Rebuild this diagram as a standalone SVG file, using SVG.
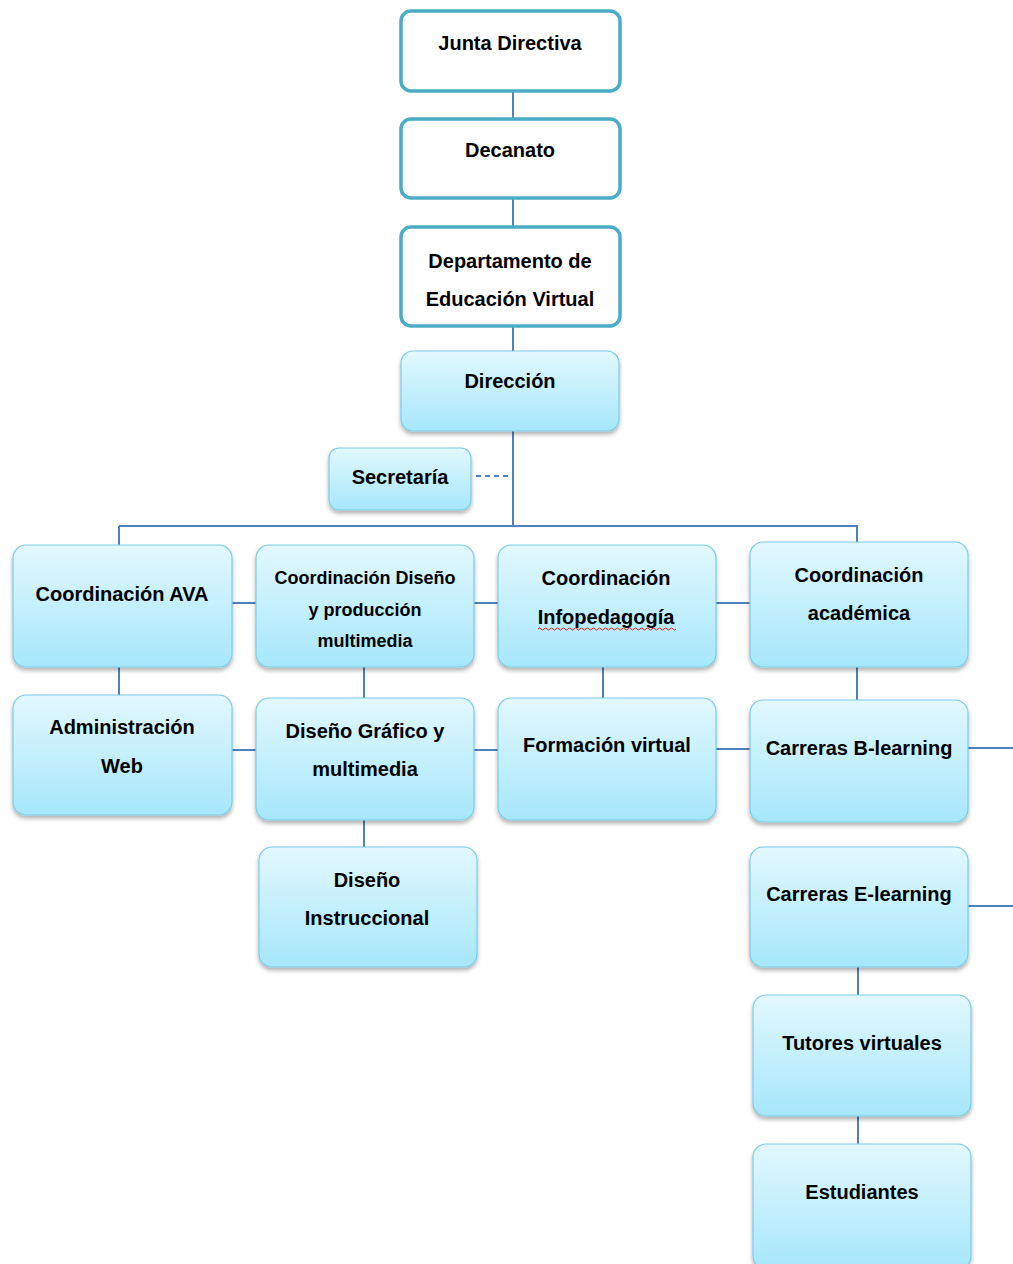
<svg xmlns="http://www.w3.org/2000/svg" width="1013" height="1264" viewBox="0 0 1013 1264">
<defs>
<linearGradient id="g" x1="0" y1="0" x2="0" y2="1">
<stop offset="0" stop-color="#E2F8FE"/>
<stop offset="1" stop-color="#A6E7FB"/>
</linearGradient>
<filter id="sh" x="-10%" y="-10%" width="120%" height="130%">
<feDropShadow dx="0" dy="3" stdDeviation="2" flood-color="#000" flood-opacity="0.3"/>
</filter>
</defs>
<style>
.top{fill:#fff;stroke:#4BACC6;stroke-width:3.5}
.box{fill:url(#g);stroke:#7CCBE6;stroke-width:1.2;filter:url(#sh)}
text{font-family:"Liberation Sans",Arial,sans-serif;font-weight:bold;fill:#000;text-anchor:middle;font-size:20px}
.s{font-size:18px}
.c line,.c path{stroke:#4F81BD;stroke-width:2;fill:none}
.d{stroke-dasharray:5 4}
</style>
<g class="c" id="connectors">
<line x1="513" y1="91" x2="513" y2="118"/>
<line x1="513" y1="198" x2="513" y2="227"/>
<line x1="513" y1="326" x2="513" y2="351"/>
<line x1="513" y1="431" x2="513" y2="527"/>
<line class="d" x1="476" y1="476" x2="513" y2="476"/>
<line x1="119" y1="526" x2="858" y2="526"/>
<line x1="119" y1="526" x2="119" y2="545"/>
<line x1="857" y1="526" x2="857" y2="542"/>
<line x1="232" y1="603" x2="256" y2="603"/>
<line x1="474" y1="603" x2="498" y2="603"/>
<line x1="716" y1="603" x2="750" y2="603"/>
<line x1="119" y1="667" x2="119" y2="695"/>
<line x1="364" y1="667" x2="364" y2="698"/>
<line x1="603" y1="667" x2="603" y2="698"/>
<line x1="857" y1="667" x2="857" y2="700"/>
<line x1="232" y1="750" x2="256" y2="750"/>
<line x1="474" y1="750" x2="498" y2="750"/>
<line x1="716" y1="749" x2="750" y2="749"/>
<line x1="968" y1="748" x2="1013" y2="748"/>
<line x1="364" y1="820" x2="364" y2="847"/>
<line x1="968" y1="906" x2="1013" y2="906"/>
<line x1="858" y1="967" x2="858" y2="995"/>
<line x1="858" y1="1116" x2="858" y2="1144"/>
</g>
<g id="junta"><rect class="top" x="401" y="11" width="219" height="80" rx="10"/><text x="510" y="50">Junta Directiva</text></g>
<g id="decanato"><rect class="top" x="401" y="119" width="219" height="79" rx="10"/><text x="510" y="157">Decanato</text></g>
<g id="depto"><rect class="top" x="401" y="227" width="219" height="99" rx="10"/><text x="510" y="268">Departamento de</text><text x="510" y="306">Educación Virtual</text></g>
<g id="direccion"><rect class="box" x="401" y="351" width="218" height="80" rx="12"/><text x="510" y="388">Dirección</text></g>
<g id="secretaria"><rect class="box" x="329" y="448" width="142" height="62" rx="10"/><text x="400" y="484">Secretaría</text></g>
<g id="ava"><rect class="box" x="13" y="545" width="219" height="122" rx="13"/><text x="122" y="601">Coordinación AVA</text></g>
<g id="diseno"><rect class="box" x="256" y="545" width="218" height="122" rx="13"/><text class="s" x="365" y="584">Coordinación Diseño</text><text class="s" x="365" y="616">y producción</text><text class="s" x="365" y="647">multimedia</text></g>
<g id="infopedagogia"><rect class="box" x="498" y="545" width="218" height="122" rx="13"/><text x="606" y="585">Coordinación</text><text x="606" y="624">Infopedagogía</text><path d="M538 629 q1.5 -2 3 0 t3 0 t3 0 t3 0 t3 0 t3 0 t3 0 t3 0 t3 0 t3 0 t3 0 t3 0 t3 0 t3 0 t3 0 t3 0 t3 0 t3 0 t3 0 t3 0 t3 0 t3 0 t3 0 t3 0 t3 0 t3 0 t3 0 t3 0 t3 0 t3 0 t3 0 t3 0 t3 0 t3 0 t3 0 t3 0 t3 0 t3 0 t3 0 t3 0 t3 0 t3 0 t3 0 t3 0 t3 0 t3 0" fill="none" stroke="#E02020" stroke-width="1"/></g>
<g id="academica"><rect class="box" x="750" y="542" width="218" height="125" rx="13"/><text x="859" y="582">Coordinación</text><text x="859" y="620">académica</text></g>
<g id="admweb"><rect class="box" x="13" y="695" width="219" height="120" rx="13"/><text x="122" y="734">Administración</text><text x="122" y="773">Web</text></g>
<g id="grafico"><rect class="box" x="256" y="698" width="218" height="122" rx="13"/><text x="365" y="738">Diseño Gráfico y</text><text x="365" y="776">multimedia</text></g>
<g id="formacion"><rect class="box" x="498" y="698" width="218" height="122" rx="13"/><text x="607" y="752">Formación virtual</text></g>
<g id="blearning"><rect class="box" x="750" y="700" width="218" height="122" rx="13"/><text x="859" y="755">Carreras B-learning</text></g>
<g id="instruccional"><rect class="box" x="259" y="847" width="218" height="120" rx="13"/><text x="367" y="887">Diseño</text><text x="367" y="925">Instruccional</text></g>
<g id="elearning"><rect class="box" x="750" y="847" width="218" height="120" rx="13"/><text x="859" y="901">Carreras E-learning</text></g>
<g id="tutores"><rect class="box" x="753" y="995" width="218" height="121" rx="13"/><text x="862" y="1050">Tutores virtuales</text></g>
<g id="estudiantes"><rect class="box" x="753" y="1144" width="218" height="125" rx="13"/><text x="862" y="1199">Estudiantes</text></g>
</svg>
